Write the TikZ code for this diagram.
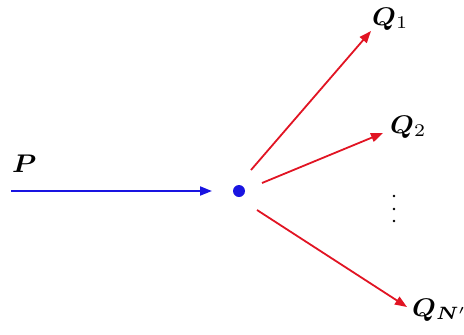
\documentclass[tikz,border=0pt]{standalone}
\usepackage{bm}
\usetikzlibrary{arrows.meta}
\definecolor{myblue}{RGB}{25,20,225}
\definecolor{myred}{RGB}{225,20,35}
\newcommand{\bigtxt}[1]{\scalebox{2.75}[2.55]{#1}}
\tikzset{
  bluearrow/.style={draw=myblue, line width=1.8pt, -{Triangle[length=12pt,width=9pt]}},
  redarrow/.style={draw=myred, line width=1.8pt, -{Triangle[length=12pt,width=9pt]}},
  lbl/.style={anchor=base west, inner sep=0pt},
  vdot/.style={circle, fill=black, inner sep=0pt, minimum size=2.8pt}
}
\begin{document}
\begin{tikzpicture}[x=1pt,y=-1pt]
\useasboundingbox (0,0) rectangle (464,335);
% centre dot
\node[circle, fill=myblue, inner sep=0pt, minimum size=12pt] (o) at (239,191) {};
% labels
\node[lbl] (P) at (12,172) {\bigtxt{$\bm{P}$}};
\node[lbl] (Q1) at (372,25) {\bigtxt{$\bm{Q}_1$}};
\node[lbl] (Q2) at (390,133) {\bigtxt{$\bm{Q}_2$}};
\node[lbl] (QN) at (412,316) {\bigtxt{$\bm{Q}_{\bm{N}'}$}};
% vertical dots
\node[vdot] (d1) at (394,196) {};
\node[vdot] (d2) at (394,209) {};
\node[vdot] (d3) at (394,221) {};
% arrow end points
\coordinate (ps) at (11,191);
\coordinate (pe) at (212,191);
\coordinate (a1) at (251,170);
\coordinate (b1) at (371,31);
\coordinate (a2) at (262,183);
\coordinate (b2) at (383,133);
\coordinate (a3) at (257,210);
\coordinate (b3) at (407,307);
\draw[bluearrow] (ps) -- (pe);
\draw[redarrow] (a1) -- (b1);
\draw[redarrow] (a2) -- (b2);
\draw[redarrow] (a3) -- (b3);
\end{tikzpicture}
\end{document}
